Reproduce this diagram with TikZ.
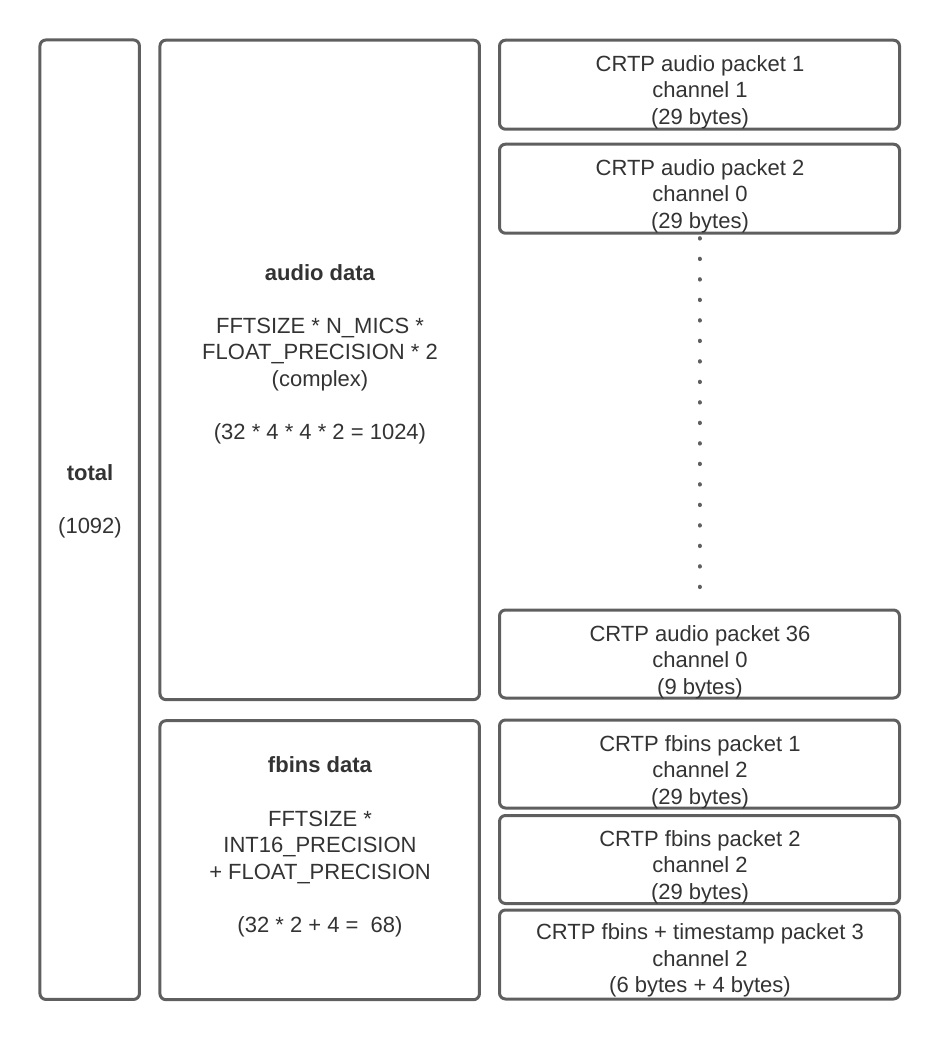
\documentclass[tikz,border=0pt]{standalone}
\usepackage{fontspec}
\setmainfont{Liberation Sans}
\definecolor{edge}{HTML}{5F5F5F}
\definecolor{ink}{HTML}{333333}
\tikzset{
  box/.style={draw=edge, line width=3pt, rounded corners=6pt, inner sep=0pt},
  txt/.style={text=ink, align=center, inner sep=0pt, font=\fontsize{22}{26.6}\selectfont},
  dots/.style={draw=edge, line width=4pt, line cap=round, dash pattern=on 0.4pt off 20.1pt, shorten <=3.5pt, shorten >=3.5pt}
}
\begin{document}
\begin{tikzpicture}[x=1pt,y=-1pt]
\useasboundingbox (0,0) rectangle (940,1040);
% big boxes
\node[box, minimum width=99.5pt, minimum height=959.5pt] (total) at (89.7,519.7) {};
\node[box, minimum width=319.5pt, minimum height=659.5pt] (audio) at (319.7,369.9) {};
\node[box, minimum width=319.5pt, minimum height=279pt] (fbins) at (319.7,860.2) {};
% packet boxes
\node[box, minimum width=400pt, minimum height=89pt] (p1) at (699.5,84.7) {};
\node[box, minimum width=400pt, minimum height=89pt] (p2) at (699.5,188.7) {};
\node[box, minimum width=400pt, minimum height=88pt] (p36) at (699.5,654) {};
\node[box, minimum width=400pt, minimum height=88pt] (f1) at (699.5,764) {};
\node[box, minimum width=400pt, minimum height=88pt] (f2) at (699.5,859.5) {};
\node[box, minimum width=400pt, minimum height=89pt] (f3) at (699.5,954.5) {};
% dotted connector
\draw[dots] (p2.south) -- (p36.north);
% texts
\node[txt] (totalt) at (90,501.3) {\textbf{total}\\[26.6pt](1092)};
\node[txt] (audiot) at (320,354.3) {\textbf{audio data}\\[26.6pt]FFTSIZE * N\_MICS *\\FLOAT\_PRECISION * 2\\(complex)\\[26.6pt](32 * 4 * 4 * 2 = 1024)};
\node[txt] (fbinst) at (320,847) {\textbf{fbins data}\\[26.6pt]FFTSIZE *\\INT16\_PRECISION\\+ FLOAT\_PRECISION\\[26.6pt](32 * 2 + 4 = \ 68)};
\node[txt] (p1t) at (700,92.3) {CRTP audio packet 1\\channel 1\\(29 bytes)};
\node[txt] (p2t) at (700,196.3) {CRTP audio packet 2\\channel 0\\(29 bytes)};
\node[txt] (p36t) at (700,662.3) {CRTP audio packet 36\\channel 0\\(9 bytes)};
\node[txt] (f1t) at (700,772.3) {CRTP fbins packet 1\\channel 2\\(29 bytes)};
\node[txt] (f2t) at (700,867) {CRTP fbins packet 2\\channel 2\\(29 bytes)};
\node[txt] (f3t) at (700,960.6) {CRTP fbins + timestamp packet 3\\channel 2\\(6 bytes + 4 bytes)};
\end{tikzpicture}
\end{document}
